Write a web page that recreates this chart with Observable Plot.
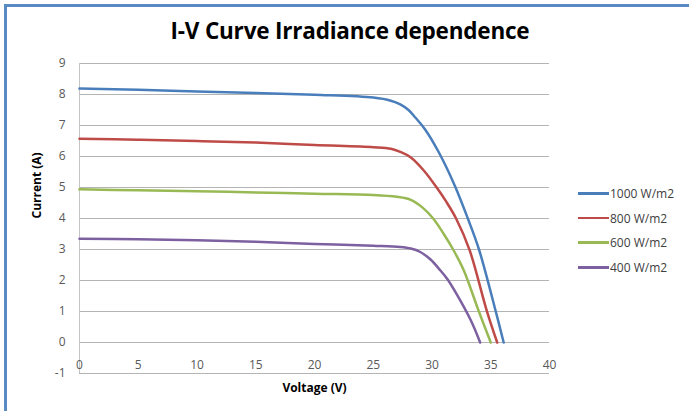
<!DOCTYPE html>
<html>
<head>
<meta charset="utf-8">
<script src="https://cdn.jsdelivr.net/npm/d3@7"></script>
<script src="https://cdn.jsdelivr.net/npm/@observablehq/plot@0.6"></script>
<style>
  html, body { margin: 0; padding: 0; background: #fff; }
  #wrap { position: relative; width: 689px; height: 411px; overflow: hidden; background: #fff; }
  #frame { position: absolute; left: 4px; top: 4px; width: 700px; height: 420px; border-left: 3px solid #5a8ac6; border-top: 3px solid #5a8ac6; box-sizing: border-box; pointer-events: none; }
  #title { position: absolute; left: 0; top: 15px; width: 700px; text-align: center; font-family: "Open Sans", sans-serif; font-weight: bold; font-size: 22.5px; color: #000; letter-spacing: -0.2px; }
  #legend { position: absolute; left: 578px; top: 185px; font-family: "Open Sans", sans-serif; font-size: 12px; color: #404040; }
  .item { position: absolute; left: 0; height: 16px; white-space: nowrap; }
  .swatch { position: absolute; left: 0; top: 7px; width: 31px; height: 2.5px; }
  .lbl { position: absolute; left: 32px; top: 0; }
  #chart { position: absolute; left: 0; top: 0; }
</style>
</head>
<body>
<div id="wrap">
  <div id="chart"></div>
  <div id="title">I-V Curve Irradiance dependence</div>
  <div id="legend"></div>
  <div id="frame"></div>
</div>
<script>
const seriesNames = ["1000 W/m2", "800 W/m2", "600 W/m2", "400 W/m2"];
const seriesColors = ["#4a7ebb", "#be4b48", "#98b954", "#7d60a0"];

const v1000 = [0, 5, 10, 15, 20, 25, 26.5, 27.3, 28, 28.6, 29.4, 30.6, 31.95, 33.05, 34.0, 35.4, 36.1];
const i1000 = [8.19, 8.15, 8.1, 8.05, 7.99, 7.9, 7.8, 7.68, 7.5, 7.25, 6.88, 6.12, 5.05, 4.0, 3.0, 1.04, 0];

const v800 = [0, 5, 10, 15, 20, 25, 26.5, 27.3, 28.2, 29.3, 30.4, 31.2, 32.05, 33.2, 34.65, 35.55];
const i800 = [6.57, 6.54, 6.5, 6.45, 6.37, 6.3, 6.25, 6.15, 5.97, 5.55, 5.0, 4.55, 4.0, 2.98, 1.04, 0];

const v600 = [0, 5, 10, 15, 20, 25, 27, 28.2, 29.2, 30.1, 31.0, 31.8, 32.7, 33.95, 35.0];
const i600 = [4.94, 4.91, 4.88, 4.84, 4.8, 4.76, 4.7, 4.6, 4.35, 4.0, 3.5, 3.0, 2.33, 1.04, 0];

const v400 = [0, 5, 10, 15, 20, 25, 27.3, 28.2, 29, 29.9, 30.7, 31.3, 31.9, 33.3, 34.1];
const i400 = [3.35, 3.33, 3.3, 3.25, 3.18, 3.12, 3.08, 3.03, 2.92, 2.67, 2.33, 2.05, 1.69, 0.72, 0];

const xTicks = [0, 5, 10, 15, 20, 25, 30, 35, 40];
const yTicks = [-1, 0, 1, 2, 3, 4, 5, 6, 7, 8, 9];

const voltages = [v1000, v800, v600, v400];
const currents = [i1000, i800, i600, i400];
const data = [];
seriesNames.forEach((name, k) => {
  voltages[k].forEach((v, j) => data.push({series: name, V: v, I: currents[k][j]}));
});

const chart = Plot.plot({
  width: 689,
  height: 411,
  marginLeft: 79,
  marginRight: 140,
  marginTop: 63,
  marginBottom: 38,
  style: {fontFamily: "'Open Sans', sans-serif", fontSize: "12px", color: "#595959", background: "transparent"},
  x: {domain: [0, 40]},
  y: {domain: [-1, 9]},
  color: {domain: seriesNames, range: seriesColors},
  marks: [
    Plot.gridY(yTicks, {stroke: "#b4b4b4", strokeOpacity: 1, strokeWidth: 1}),
    Plot.ruleX([0], {stroke: "#c4c4c4", strokeWidth: 1}),
    Plot.axisY(yTicks, {tickSize: 0, tickPadding: 14, tickFormat: d => String(d), label: null, fill: "#595959"}),
    Plot.axisX(xTicks, {tickSize: 0, tickPadding: 0, dy: -13, tickFormat: d => String(d), label: null, fill: "#595959"}),
    Plot.line(data, {x: "V", y: "I", z: "series", stroke: "series", strokeWidth: 2.5, curve: "catmull-rom"}),
    Plot.text(["Current (A)"], {frameAnchor: "left", rotate: -90, dx: -42, fontWeight: "bold", fill: "#000", fontSize: 12}),
    Plot.text(["Voltage (V)"], {frameAnchor: "bottom", dy: 18, fontWeight: "bold", fill: "#000", fontSize: 12})
  ]
});
document.getElementById("chart").appendChild(chart);

const legend = document.getElementById("legend");
seriesNames.forEach((name, k) => {
  const it = document.createElement("div");
  it.className = "item";
  it.style.top = (k * 24.7) + "px";
  it.innerHTML = `<div class="swatch" style="background:${seriesColors[k]}"></div><div class="lbl">${name}</div>`;
  legend.appendChild(it);
});
</script>
</body>
</html>
